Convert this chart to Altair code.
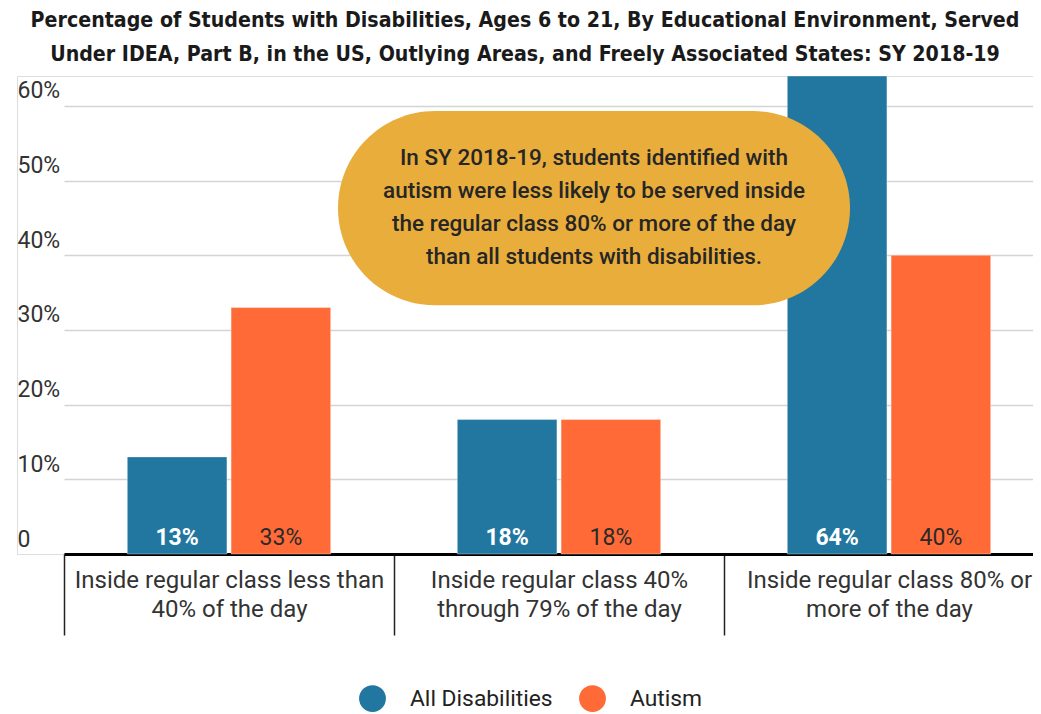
import altair as alt
import pandas as pd

# ---- data ----
categories = [
    "Inside regular class less than|40% of the day",
    "Inside regular class 40%|through 79% of the day",
    "Inside regular class 80% or|more of the day",
]
series = ["All Disabilities", "Autism"]
all_disabilities = [13, 18, 64]
autism = [33, 18, 40]

title_lines = [
    "Percentage of Students with Disabilities, Ages 6 to 21, By Educational Environment, Served",
    "Under IDEA, Part B, in the US, Outlying Areas, and Freely Associated States: SY 2018-19",
]
note_lines = [
    "In SY 2018-19, students identified with",
    "autism were less likely to be served inside",
    "the regular class 80% or more of the day",
    "than all students with disabilities.",
]
note_category = categories[1]
note_y_top = 59.3
note_y_bottom = 33.3

# ---- tables ----
rows = []
for c, a, b in zip(categories, all_disabilities, autism):
    rows.append({"category": c, "series": series[0], "value": a})
    rows.append({"category": c, "series": series[1], "value": b})
df = pd.DataFrame(rows)
note_df = pd.DataFrame([{"category": note_category, "top": note_y_top,
                         "bottom": note_y_bottom,
                         "mid": (note_y_top + note_y_bottom) / 2}])

BLUE = "#21779f"
ORANGE = "#ff6a37"
YELLOW = "#e9ad3b"
FONT = "Roboto"

x_scale = alt.Scale(domain=categories, range=[47, 1037], paddingInner=0, paddingOuter=0)
xo_scale = alt.Scale(domain=series, paddingInner=0.04, paddingOuter=0.61)
y_scale = alt.Scale(domain=[0, 64], nice=False)

x_axis = alt.Axis(
    title=None, labelAngle=0, domainColor="#000000", domainWidth=3,
    tickBand="extent", tickSize=81, tickColor="#222222", tickWidth=1.5,
    labelExpr="split(datum.label, '|')", labelFontSize=24, labelColor="#333333",
    labelFont=FONT, labelPadding=-67, labelLineHeight=29, labelBaseline="top",
    labelLimit=0, grid=False,
)
y_axis = alt.Axis(
    title=None, values=[0, 10, 20, 30, 40, 50, 60], domain=False, ticks=False,
    grid=True, gridColor="#d4d4d4", gridWidth=1.5, labelAlign="left",
    labelPadding=0, labelBaseline="alphabetic", labelOffset=-8,
    labelExpr="datum.value == 0 ? '0' : datum.value + '%'",
    labelFontSize=23, labelColor="#333333", labelFont=FONT,
)

X = alt.X("category:N", sort=categories, scale=x_scale, axis=x_axis)
XO = alt.XOffset("series:N", sort=series, scale=xo_scale)

bars = alt.Chart(df).mark_bar(stroke="#ffffff", strokeOpacity=0.35, strokeWidth=1).encode(
    x=X,
    xOffset=XO,
    y=alt.Y("value:Q", scale=y_scale, axis=y_axis),
    color=alt.Color(
        "series:N", sort=series,
        scale=alt.Scale(domain=series, range=[BLUE, ORANGE]),
        legend=alt.Legend(
            title=None, orient="none", legendX=342, legendY=609,
            direction="horizontal", symbolType="circle", symbolSize=720,
            symbolStrokeWidth=0, labelFontSize=22.8, labelFont=FONT,
            labelColor="#222222", labelOffset=24, columnPadding=26,
        ),
    ),
)

labels_base = alt.Chart(df).transform_calculate(
    label="format(datum.value, 'd') + '%'"
)
label_blue = labels_base.transform_filter(alt.datum.series == series[0]).mark_text(
    baseline="middle", align="center", dy=-16, fontSize=23, font=FONT,
    fontWeight="bold", color="#ffffff",
).encode(x=X, xOffset=XO, y=alt.datum(0), text="label:N")
label_orange = labels_base.transform_filter(alt.datum.series == series[1]).mark_text(
    baseline="middle", align="center", dy=-16, fontSize=23, font=FONT,
    color="#2a2a2a",
).encode(x=X, xOffset=XO, y=alt.datum(0), text="label:N")

note_box = alt.Chart(note_df).mark_bar(
    width=512, xOffset=35, cornerRadius=97, color=YELLOW
).encode(x=X, y=alt.Y("top:Q", scale=y_scale), y2="bottom:Q")
note_text = alt.Chart(note_df).mark_text(
    text=note_lines, xOffset=35, dy=-50, align="center", baseline="middle",
    lineHeight=33, fontSize=22.5, font=FONT, fontWeight=500, color="#262626",
).encode(x=X, y=alt.Y("mid:Q", scale=y_scale))

chart = alt.layer(bars, note_box, note_text, label_blue, label_orange).properties(
    width=1016, height=478,
    autosize=alt.AutoSizeParams(type="none"),
    padding={"left": 9, "right": 0, "top": 68, "bottom": 162},
    title=alt.TitleParams(
        text=title_lines, fontSize=21.2, font="DejaVu Sans Condensed",
        fontWeight="bold", lineHeight=34, anchor="middle", color="#1a1a1a",
        offset=10,
    ),
).configure_view(stroke=None).configure(background="#ffffff")

chart.save("out.html", embed_options={"renderer": "svg", "actions": False})
